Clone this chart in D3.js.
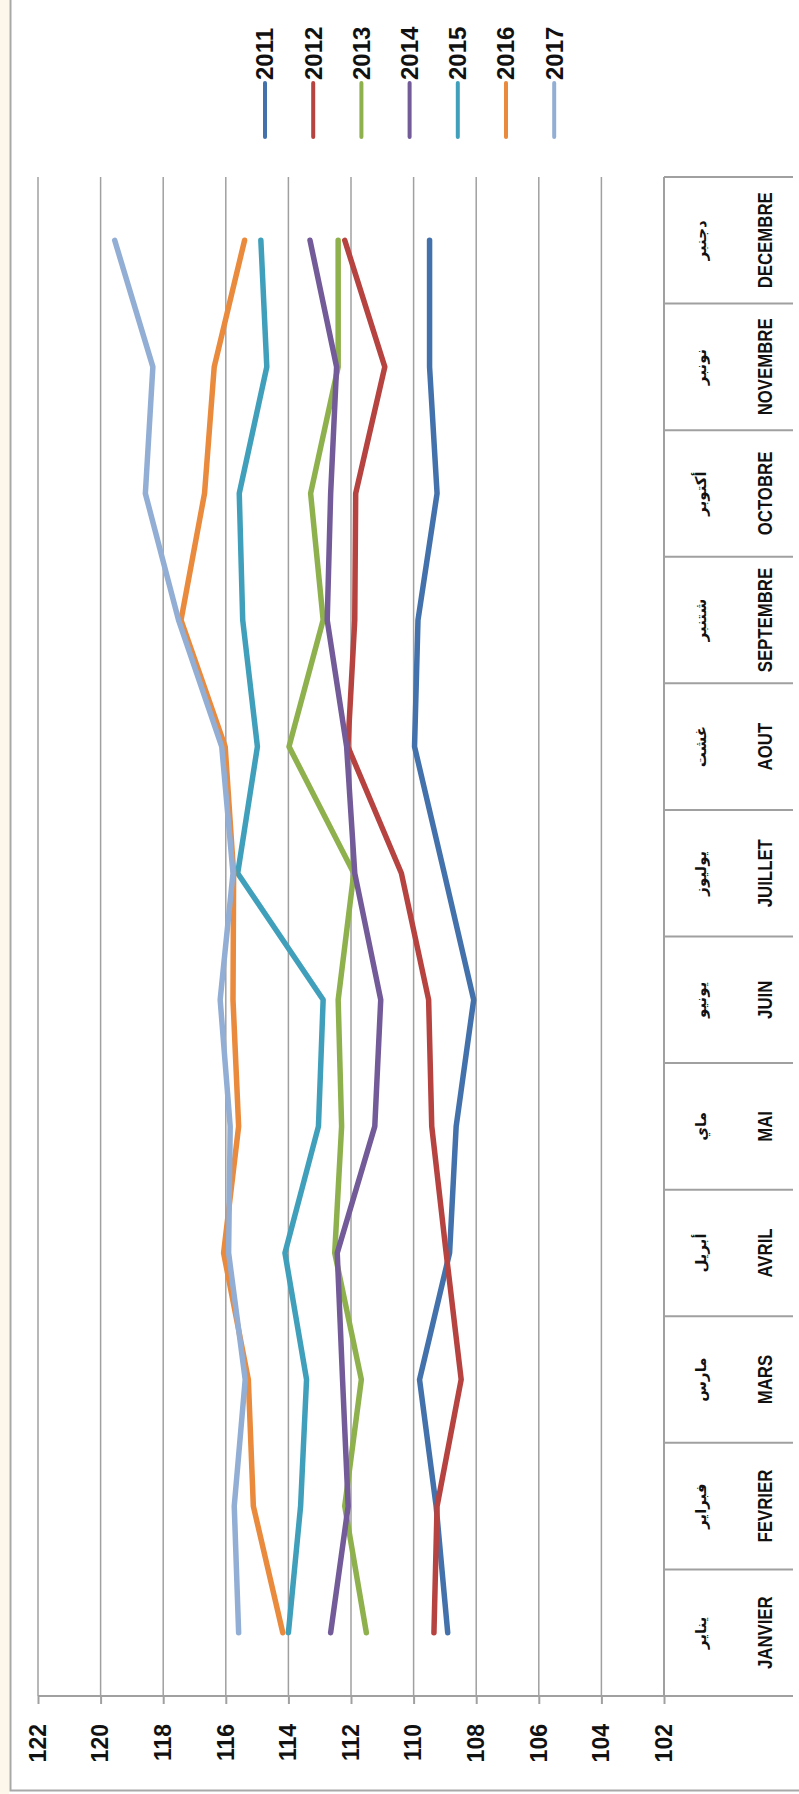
<!DOCTYPE html>
<html>
<head>
<meta charset="utf-8">
<script src="https://cdn.jsdelivr.net/npm/d3@7"></script>
<style>
body{margin:0;background:#fff}
svg{display:block}
</style>
</head>
<body>
<div id="chart"></div>
<script>
// categories
var months=["JANVIER","FEVRIER","MARS","AVRIL","MAI","JUIN","JUILLET","AOUT","SEPTEMBRE","OCTOBRE","NOVEMBRE","DECEMBRE"];
var monthsAr=["يناير","فبراير","مارس","أبريل","ماي","يونيو","يوليوز","غشت","شتنبر","أكتوبر","نونبر","دجنبر"];
var years=["2011","2012","2013","2014","2015","2016","2017"];

// series values, Jan..Dec
var v2011=[108.91,109.28,109.81,108.85,108.64,108.08,109.02,109.97,109.86,109.25,109.49,109.49];
var v2012=[109.35,109.25,108.48,108.96,109.42,109.52,110.39,112.10,111.88,111.85,110.92,112.20];
var v2013=[111.51,112.20,111.67,112.52,112.30,112.41,111.91,113.98,112.89,113.29,112.41,112.41];
var v2014=[112.65,112.09,112.27,112.44,111.24,111.05,111.88,112.14,112.76,112.65,112.46,113.31];
var v2015=[114.00,113.61,113.42,114.11,113.04,112.89,115.62,114.99,115.46,115.57,114.69,114.88];
var v2016=[114.18,115.12,115.28,116.07,115.59,115.77,115.75,116.02,117.43,116.68,116.37,115.40];
var v2017=[115.59,115.73,115.38,115.91,115.86,116.18,115.77,116.13,117.51,118.57,118.33,119.55];

// tick labels
var yTicks=[102,104,106,108,110,112,114,116,118,120,122];

var colors=["#4371ab","#b6433f","#8fb14d","#735a99","#40a0bb","#ea8a3c","#92aed5"];
var series=[v2011,v2012,v2013,v2014,v2015,v2016,v2017];

var W=799,H=1794;
var svg=d3.select("#chart").append("svg").attr("width",W).attr("height",H);

// page frame (drawn upright)
svg.append("rect").attr("x",0).attr("y",0).attr("width",9).attr("height",H).attr("fill","#fdf6ea");
svg.append("path").attr("d","M10.5,0V1790.5H"+W).attr("fill","none").attr("stroke","#a8a8a8").attr("stroke-width",2);

// the chart itself is laid out normally and turned a quarter turn
var g=svg.append("g").attr("transform","translate(0,"+H+") rotate(-90)");

var x=d3.scaleBand().domain(months).range([98,1617]);
var y=d3.scaleLinear().domain([102,122]).range([664,38]);
var bw=x.bandwidth();
var tableBottom=793;

// gridlines
g.append("g").selectAll("line").data(yTicks.filter(function(t){return t>102;})).enter().append("line")
 .attr("x1",98).attr("x2",1617)
 .attr("y1",function(t){return y(t);}).attr("y2",function(t){return y(t);})
 .attr("stroke","#a0a0a0").attr("stroke-width",1.5);

// category table
var tbl=g.append("g");
tbl.append("line").attr("x1",98).attr("x2",1617).attr("y1",y(102)).attr("y2",y(102))
 .attr("stroke","#a0a0a0").attr("stroke-width",2);
tbl.selectAll("line.sep").data(months.slice(1).concat(["end"])).enter().append("line").attr("class","sep")
 .attr("x1",function(m,i){return i<11?x(m):x(months[11])+bw;})
 .attr("x2",function(m,i){return i<11?x(m):x(months[11])+bw;})
 .attr("y1",y(102)).attr("y2",tableBottom)
 .attr("stroke","#a0a0a0").attr("stroke-width",2);
// french names, condensed like the original narrow face
tbl.selectAll("text.fr").data(months).enter().append("text").attr("class","fr")
 .attr("transform",function(m){return "translate("+(x(m)+bw/2)+",772) scale(0.8,1)";})
 .attr("text-anchor","middle")
 .style("font-family","'Liberation Sans',sans-serif")
 .style("font-weight","bold").style("font-size","21px").attr("fill","#111")
 .text(function(m){return m;});
tbl.selectAll("text.ar").data(monthsAr).enter().append("text").attr("class","ar")
 .attr("x",function(m,i){return x(months[i])+bw/2;}).attr("y",706)
 .attr("text-anchor","middle").attr("direction","rtl")
 .style("font-family","'DejaVu Sans',sans-serif")
 .style("font-weight","bold").style("font-size","15px").attr("fill","#111")
 .text(function(m){return m;});

// value axis
var ax=g.append("g").attr("transform","translate(98,0)")
 .call(d3.axisLeft(y).tickValues(yTicks).tickSize(8).tickPadding(20).tickSizeOuter(0));
ax.select(".domain").remove();
ax.append("line").attr("x1",0).attr("x2",0).attr("y1",y(122)).attr("y2",tableBottom)
 .attr("stroke","#a0a0a0").attr("stroke-width",2);
ax.selectAll(".tick line").attr("stroke","#a0a0a0").attr("stroke-width",2);
ax.selectAll(".tick text").attr("fill","#111")
 .style("font-family","'Liberation Sans',sans-serif").style("font-weight","bold").style("font-size","23px");

// lines
var line=d3.line().x(function(d,i){return x(months[i])+bw/2;}).y(function(d){return y(d);});
g.append("g").selectAll("path").data(series).enter().append("path")
 .attr("d",line).attr("fill","none")
 .attr("stroke",function(d,i){return colors[i];})
 .attr("stroke-width",5.5).attr("stroke-linecap","round").attr("stroke-linejoin","round");

// legend
var lg=g.append("g").selectAll("g").data(years).enter().append("g")
 .attr("transform",function(d,i){return "translate(1657,"+(265+i*48.2)+")";});
lg.append("line").attr("x1",0).attr("x2",54).attr("y1",0).attr("y2",0)
 .attr("stroke",function(d,i){return colors[i];}).attr("stroke-width",4).attr("stroke-linecap","round");
lg.append("text").attr("x",57).attr("y",0).attr("dy","0.35em")
 .style("font-family","'Liberation Sans',sans-serif").style("font-weight","bold").style("font-size","24px")
 .attr("fill","#111").text(function(d){return d;});
</script>
</body>
</html>
